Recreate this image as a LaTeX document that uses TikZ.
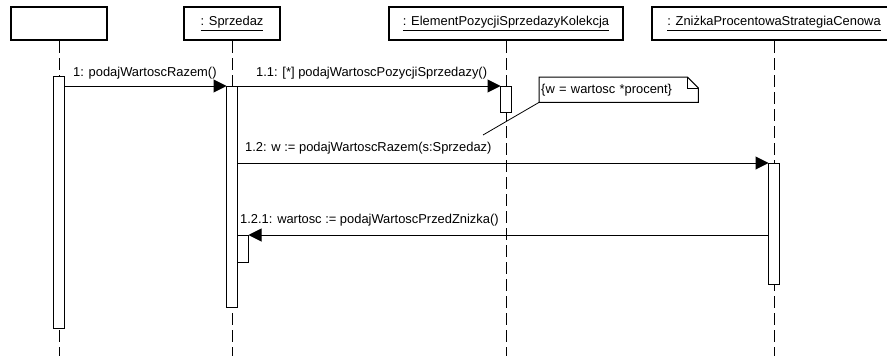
\documentclass[tikz,border=0pt]{standalone}
\usepackage{fontspec}
\setmainfont{Liberation Sans}
\usetikzlibrary{arrows.meta, calc, positioning}
\tikzset{
  % Message arrow style
  marr/.style={
    line width = 1pt,
    -{Triangle[length=13pt,width=13pt]}
  },
  % Lifeline style
  lline/.style={
    line width = 1pt,
    dash pattern = on 12pt off 5pt
  },
}

\begin{document}
\begin{tikzpicture}
          [x=1pt, y=-1pt
          , every node/.style={font=\fontsize{12.9}{15}\selectfont}
          , hdr/.style={draw, line width=2pt, minimum height=33pt, inner sep=0pt}
          , act/.style={draw, fill=white, line width=1pt, minimum width=11pt, inner sep=0pt, outer sep=0pt}
          , lbl/.style={anchor=base west, inner sep=0pt}
          ]
          \useasboundingbox (0,0) rectangle (887,356);
          \coordinate (bot) at (0,356);

          \node (hdr1) [hdr
                       , minimum width=96pt
                       , anchor=north west]
                       at (10,6) {};
          \node (hdr2) [hdr
                       , minimum width=96pt
                       , right=75pt of hdr1]
                       {\underline{: Sprzedaz}};
          \node (hdr3) [hdr
                       , minimum width=234pt
                       , right=107pt of hdr2]
                       {\underline{: ElementPozycjiSprzedazyKolekcja}};
          \node (hdr4) [hdr
                       , minimum width=244pt
                       , right=27pt of hdr3]
                       {\underline{: ZniżkaProcentowaStrategiaCenowa}};

          \draw[lline] (hdr1.south) -- (hdr1.south |- bot);
          \draw[lline] (hdr2.south) -- (hdr2.south |- bot);
          \draw[lline] (hdr3.south) -- (hdr3.south |- bot);
          \draw[lline] (hdr4.south) -- (hdr4.south |- bot);

          \node (act1) [act
                       , minimum height=252pt
                       , below=35pt of hdr1] {};
          \node (act2) [act
                       , minimum height=221pt
                       , below=45pt of hdr2] {};
          \node (act3) [act
                       , minimum height=26pt
                       , below=45pt of hdr3] {};
          \node (act4) [act
                       , minimum height=121pt
                       , below=122pt of hdr4] {};
          \node (act2b) [act
                        , minimum height=27pt
                        , anchor=north west]
                        at (act2.north east |- 0,235) {};

          \node (lbl1) [lbl] at (73,76) {1: podajWartoscRazem()};
          \node (lbl2) [lbl] at (256,76) {1.1: [*] podajWartoscPozycjiSprzedazy()};
          \node (lbl3) [lbl] at (245,151) {1.2: w := podajWartoscRazem(s:Sprzedaz)};
          \node (lbl4) [lbl] at (240,223) {1.2.1: wartosc := podajWartoscPrzedZnizka()};

          \draw[marr] (act1.east |- act2.north) -- (act2.north west);
          \draw[marr] (act2.north east) -- (act3.north west);
          \draw[marr] (act2.east |- act4.north) -- (act4.north west);
          \draw[marr] (act4.west |- act2b.north) -- (act2b.north east);

          \node (note) [anchor=north west
                       , text width=155pt
                       , minimum height=25pt
                       , inner sep=2pt
                       , align=left]
                       at (539,77) {\{w = wartosc *procent\}};
          \draw[line width=1pt] (note.south west) -- (note.north west)
                -- ([xshift=-11pt]note.north east)
                -- ([yshift=-11pt]note.north east)
                -- (note.south east) -- cycle;
          \draw[line width=1pt] ([xshift=-11pt]note.north east)
                |- ([yshift=-11pt]note.north east);
          \coordinate (ntend) at (483,135);
          \draw[line width=0.8pt] (note.south west) -- (ntend);
      \end{tikzpicture}
\end{document}
